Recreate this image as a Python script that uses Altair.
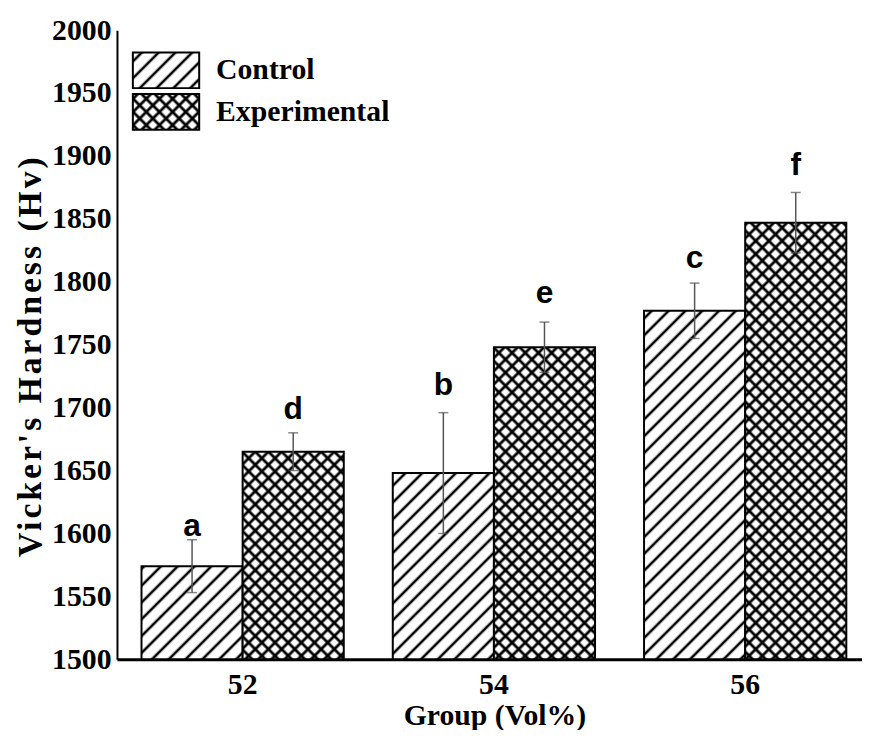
import altair as alt
import pandas as pd
import jinja2

# ---- data ----
groups = ["52", "54", "56"]
series = ["Control", "Experimental"]
control_mean = [1574, 1648, 1777]
control_err = [21, 48, 22]
exp_mean = [1665, 1748, 1847]
exp_err = [15, 20, 24]
control_letters = ["a", "b", "c"]
exp_letters = ["d", "e", "f"]
control_letter_y = [1598, 1710, 1811]
exp_letter_y = [1691, 1783, 1885]
y_ticks = list(range(1500, 2001, 50))

rows = []
for i, g in enumerate(groups):
    rows.append(dict(group=g, series="Control", mean=control_mean[i], err=control_err[i],
                     letter=control_letters[i], ly=control_letter_y[i]))
    rows.append(dict(group=g, series="Experimental", mean=exp_mean[i], err=exp_err[i],
                     letter=exp_letters[i], ly=exp_letter_y[i]))
df = pd.DataFrame(rows)
df["lo"] = df["mean"] - df["err"]
df["hi"] = df["mean"] + df["err"]

SERIF = "Liberation Serif"
SANS = "Liberation Sans"

x_enc = alt.X("group:N", sort=groups,
              scale=alt.Scale(paddingInner=0.195, paddingOuter=0.08, align=0.61),
              axis=alt.Axis(title="Group (Vol%)", labelAngle=0, ticks=False, tickSize=0,
                            domainWidth=3, domainColor="black",
                            labelFont=SERIF, labelFontWeight="bold", labelFontSize=30,
                            labelColor="black", labelPadding=11,
                            titleFont=SERIF, titleFontWeight="bold", titleFontSize=30,
                            titleColor="black", titleX=381, titleY=57,
                            titleBaseline="middle", titleAlign="center"))
xo_enc = alt.XOffset("series:N", sort=series,
                     scale=alt.Scale(domain=series, paddingInner=0, paddingOuter=0))
y_scale = alt.Scale(domain=[1500, 2000], zero=False, nice=False)

bars = alt.Chart(df).mark_bar(stroke="black", strokeWidth=2, opacity=1).encode(
    x=x_enc,
    xOffset=xo_enc,
    y=alt.Y("mean:Q", scale=y_scale,
            axis=alt.Axis(values=y_ticks, format="d", ticks=False, tickSize=0, grid=False,
                          domainWidth=2, domainColor="black",
                          labelFont=SERIF, labelFontWeight="bold", labelFontSize=30,
                          labelColor="black", labelPadding=6, labelFlush=False,
                          labelOverlap=False,
                          title="Vicker's Hardness (Hv)", titleFont=SERIF,
                          titleFontWeight="bold", titleFontSize=34, titleColor="black",
                          titleX=-87, titleY=328, titleAngle=270,
                          titleBaseline="middle", titleAlign="center")),
    y2=alt.datum(1500),
    fill=alt.Fill("series:N",
                  scale=alt.Scale(domain=series, range=["url(#hatchDiag)", "url(#hatchCross)"]),
                  legend=alt.Legend(orient="none", legendX=30.5, legendY=21.5, title=None,
                                    symbolType="M-1.86,-1H1.86V1H-1.86Z", symbolSize=1296,
                                    symbolStrokeColor="black", symbolStrokeWidth=2,
                                    symbolOpacity=1, labelLimit=0,
                                    labelFont=SERIF, labelFontWeight="bold", labelFontSize=30,
                                    labelColor="black", labelOffset=31.5, rowPadding=-2,
                                    padding=0)),
)

err_rule = alt.Chart(df).mark_rule(color="#555555", strokeWidth=1.5).encode(
    x=alt.X("group:N", sort=groups), xOffset=xo_enc,
    y=alt.Y("lo:Q", scale=y_scale), y2="hi:Q",
)
cap_hi = alt.Chart(df).mark_tick(color="#555555", thickness=1.5, size=10, orient="horizontal").encode(
    x=alt.X("group:N", sort=groups), xOffset=xo_enc, y=alt.Y("hi:Q", scale=y_scale),
)
cap_lo = alt.Chart(df).mark_tick(color="#555555", thickness=1.5, size=10, orient="horizontal").encode(
    x=alt.X("group:N", sort=groups), xOffset=xo_enc, y=alt.Y("lo:Q", scale=y_scale),
)
letters = alt.Chart(df).mark_text(font=SANS, fontWeight="bold", fontSize=32,
                                  baseline="alphabetic", color="black").encode(
    x=alt.X("group:N", sort=groups), xOffset=xo_enc,
    y=alt.Y("ly:Q", scale=y_scale), text="letter:N",
)

chart = alt.layer(bars, err_rule, cap_hi, cap_lo, letters).properties(
    width=752, height=635,
    padding={"left": 110, "top": 19, "right": 0, "bottom": 68},
    autosize=alt.AutoSizeParams(type="none"),
    background="white",
).configure_view(stroke=None)

PATTERN_DEFS = """
<svg width="0" height="0" style="position:absolute;left:0;top:0" aria-hidden="true">
  <defs>
    <pattern id="hatchDiag" patternUnits="userSpaceOnUse" width="12" height="12" patternTransform="rotate(45)">
      <rect x="0" y="0" width="12" height="12" fill="white"/>
      <line x1="6" y1="-1" x2="6" y2="13" stroke="black" stroke-width="2.6"/>
    </pattern>
    <pattern id="hatchCross" patternUnits="userSpaceOnUse" width="9.4" height="9.4" patternTransform="rotate(45)">
      <rect x="0" y="0" width="9.4" height="9.4" fill="white"/>
      <line x1="4.7" y1="-1" x2="4.7" y2="10.4" stroke="black" stroke-width="2.8"/>
      <line x1="-1" y1="4.7" x2="10.4" y2="4.7" stroke="black" stroke-width="2.8"/>
    </pattern>
  </defs>
</svg>
"""

TEMPLATE = jinja2.Template("""<!DOCTYPE html>
<html>
<head>
  <meta charset="utf-8">
  <style>
    #{{ output_div }}.vega-embed { width: 100%; display: flex; }
    #{{ output_div }}.vega-embed details,
    #{{ output_div }}.vega-embed details summary { position: relative; }
    g[aria-label^="Y-axis"] .role-axis-title text { letter-spacing: 3px; }
  </style>
  <script type="text/javascript" src="{{ base_url }}/vega@{{ vega_version }}"></script>
  <script type="text/javascript" src="{{ base_url }}/vega-lite@{{ vegalite_version }}"></script>
  <script type="text/javascript" src="{{ base_url }}/vega-embed@{{ vegaembed_version }}"></script>
</head>
<body>
""" + PATTERN_DEFS + """
  <div id="{{ output_div }}"></div>
  <script>
    (function(vegaEmbed) {
      var spec = {{ spec }};
      var embedOpt = {{ embed_options }};
      function showError(el, error){
          el.innerHTML = ('<div style="color:red;"><p>JavaScript Error: ' + error.message + '</p></div>');
          throw error;
      }
      const el = document.getElementById('{{ output_div }}');
      vegaEmbed("#{{ output_div }}", spec, embedOpt).catch(error => showError(el, error));
    })(vegaEmbed);
  </script>
</body>
</html>""")

try:
    chart.save("out.html", embed_options={"renderer": "svg", "actions": False}, template=TEMPLATE)
except TypeError:
    chart.save("out.html", embed_options={"renderer": "svg", "actions": False})
